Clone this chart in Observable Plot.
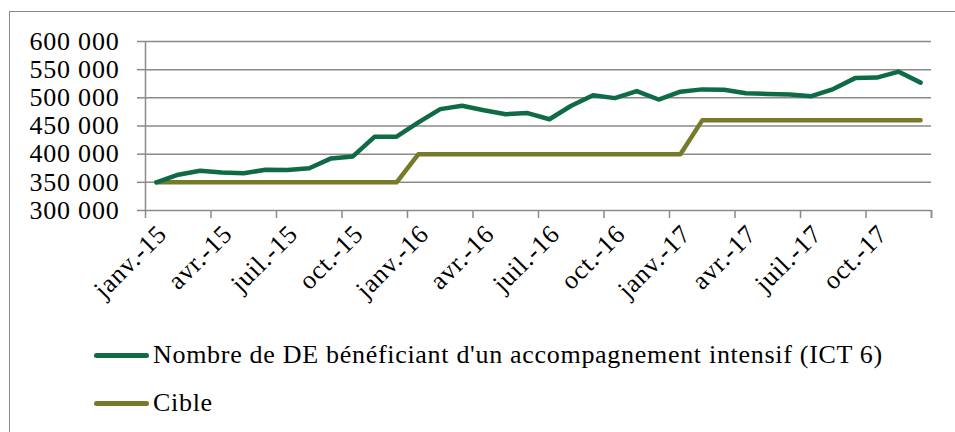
<!DOCTYPE html>
<html>
<head>
<meta charset="utf-8">
<script src="https://cdn.jsdelivr.net/npm/d3@7"></script>
<script src="https://cdn.jsdelivr.net/npm/@observablehq/plot@0.6"></script>
<style>
  html, body { margin: 0; padding: 0; background: #fff; overflow: hidden; }
  #wrap { position: relative; width: 955px; height: 432px; overflow: hidden; font-family: "Liberation Serif", "DejaVu Serif", serif; }
  #frame { position: absolute; left: 9px; top: 11px; width: 1000px; height: 500px; border-left: 1.5px solid #8a8a8a; border-top: 1.5px solid #8a8a8a; }
  #chart { position: absolute; left: 0; top: 0; }
  .leg { position: absolute; left: 94px; height: 30px; display: flex; align-items: center; font-size: 26px; letter-spacing: 0.7px; color: #000; white-space: nowrap; }
  .sw { width: 55px; height: 5px; border-radius: 3px; margin-right: 4px; }
</style>
</head>
<body>
<div id="wrap">
  <div id="frame"></div>
  <div id="chart"></div>
  <div id="legend"></div>
</div>
<script>
const months = [
  "janv.-15","févr.-15","mars-15","avr.-15","mai-15","juin-15","juil.-15","août-15","sept.-15","oct.-15","nov.-15","déc.-15",
  "janv.-16","févr.-16","mars-16","avr.-16","mai-16","juin-16","juil.-16","août-16","sept.-16","oct.-16","nov.-16","déc.-16",
  "janv.-17","févr.-17","mars-17","avr.-17","mai-17","juin-17","juil.-17","août-17","sept.-17","oct.-17","nov.-17","déc.-17"
];
const ict6 = [
  350000, 363500, 370500, 367500, 366000, 372500, 372000, 375000, 392500, 396000, 431000, 431000,
  456500, 480000, 486000, 478000, 471000, 473000, 462000, 486000, 504500, 499500, 512000, 497000,
  511000, 515000, 514500, 508000, 507000, 506000, 503000, 515500, 535000, 536000, 546500, 527000
];
const cible = [
  350000, 350000, 350000, 350000, 350000, 350000, 350000, 350000, 350000, 350000, 350000, 350000,
  400000, 400000, 400000, 400000, 400000, 400000, 400000, 400000, 400000, 400000, 400000, 400000,
  400000, 460000, 460000, 460000, 460000, 460000, 460000, 460000, 460000, 460000, 460000, 460000
];
const yTicks = [300000, 350000, 400000, 450000, 500000, 550000, 600000];
const seriesNames = ["Nombre de DE bénéficiant d'un accompagnement intensif (ICT 6)", "Cible"];
const seriesColors = ["#0f6b46", "#767b29"];

const labelIdx = months.map((m, i) => i).filter(i => i % 3 === 0);
const boundaries = d3.range(-0.5, months.length, 3).concat([months.length - 0.5]);
const fmt = d => d3.format(",")(d).replace(/,/g, " ");
const gray = "#8a8a8a";

const chart = Plot.plot({
  width: 955,
  height: 320,
  marginLeft: 145,
  marginRight: 24,
  marginTop: 41,
  marginBottom: 110,
  style: { fontFamily: "'Liberation Serif', serif", fontSize: "26px", color: "#000", background: "transparent", letterSpacing: "0.8px", overflow: "visible" },
  x: { type: "linear", domain: [-0.5, months.length - 0.5] },
  y: { domain: [300000, 600000] },
  marks: [
    Plot.gridY({ ticks: yTicks, stroke: gray, strokeOpacity: 1, strokeWidth: 1.5 }),
    Plot.ruleX([-0.5], { stroke: gray, strokeWidth: 1.5 }),
    Plot.axisY({ ticks: yTicks, tickSize: 8, tickPadding: 18, tickFormat: fmt, label: null, stroke: gray, strokeWidth: 1.5, fill: "#000", fontSize: 26 }),
    Plot.axisX({ ticks: boundaries, tickSize: 8, tickFormat: () => "", label: null, stroke: gray, strokeWidth: 1.5 }),
    Plot.axisX({ ticks: labelIdx, tickSize: 0, tickPadding: 19, dx: 6, tickRotate: -45, tickFormat: i => months[i], label: null, fill: "#000", fontSize: 26 }),
    Plot.lineY(cible, { x: (d, i) => i, y: d => d, stroke: seriesColors[1], strokeWidth: 4.5, strokeLinecap: "round", strokeLinejoin: "round" }),
    Plot.lineY(ict6, { x: (d, i) => i, y: d => d, stroke: seriesColors[0], strokeWidth: 4.5, strokeLinecap: "round", strokeLinejoin: "round" })
  ]
});
document.getElementById("chart").appendChild(chart);

const legend = document.getElementById("legend");
const legendTops = [340, 388];
seriesNames.forEach((name, k) => {
  const row = document.createElement("div");
  row.className = "leg";
  row.style.top = legendTops[k] + "px";
  const sw = document.createElement("div");
  sw.className = "sw";
  sw.style.background = seriesColors[k];
  const t = document.createElement("span");
  t.textContent = name;
  row.appendChild(sw);
  row.appendChild(t);
  legend.appendChild(row);
});
</script>
</body>
</html>
